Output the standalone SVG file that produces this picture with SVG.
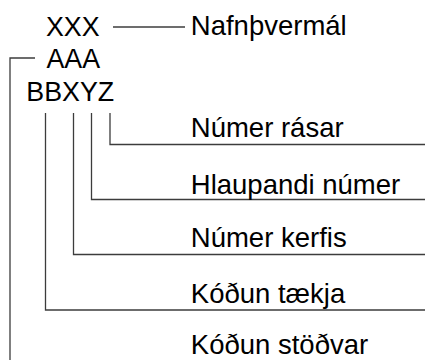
<svg xmlns="http://www.w3.org/2000/svg" width="425" height="360" viewBox="0 0 425 360">
<style>
text{font-family:"Liberation Sans",Arial,sans-serif;font-size:26.8px;fill:#000}
.lbl{font-size:27.5px}
.c line,.c polyline{stroke:#3c3c3c;stroke-width:1.3;fill:none}
</style>
<rect width="425" height="360" fill="#fff"/>
<g class="c" id="connectors">
<line x1="113" y1="27" x2="185" y2="27"/>
<polyline points="35,58 10,58 10,362"/>
<polyline points="110,113 110,144.5 426,144.5"/>
<polyline points="91.5,113 91.5,199.5 426,199.5"/>
<polyline points="73.5,113 73.5,254.5 426,254.5"/>
<polyline points="45.5,113 45.5,310 426,310"/>
</g>
<g id="code">
<text x="46" y="36">XXX</text>
<text x="46.5" y="68">AAA</text>
<text x="26.3" y="101">BBXYZ</text>
</g>
<g id="label-nafn"><text class="lbl" x="190.8" y="35">Nafnþvermál</text></g>
<g id="label-ras"><text class="lbl" x="190.8" y="136.5">Númer rásar</text></g>
<g id="label-hlaup"><text class="lbl" x="190.8" y="193.5">Hlaupandi númer</text></g>
<g id="label-kerfi"><text class="lbl" x="190.8" y="247">Númer kerfis</text></g>
<g id="label-taeki"><text class="lbl" x="190.8" y="303">Kóðun tækja</text></g>
<g id="label-stod"><text class="lbl" x="190.8" y="354">Kóðun stöðvar</text></g>
</svg>
